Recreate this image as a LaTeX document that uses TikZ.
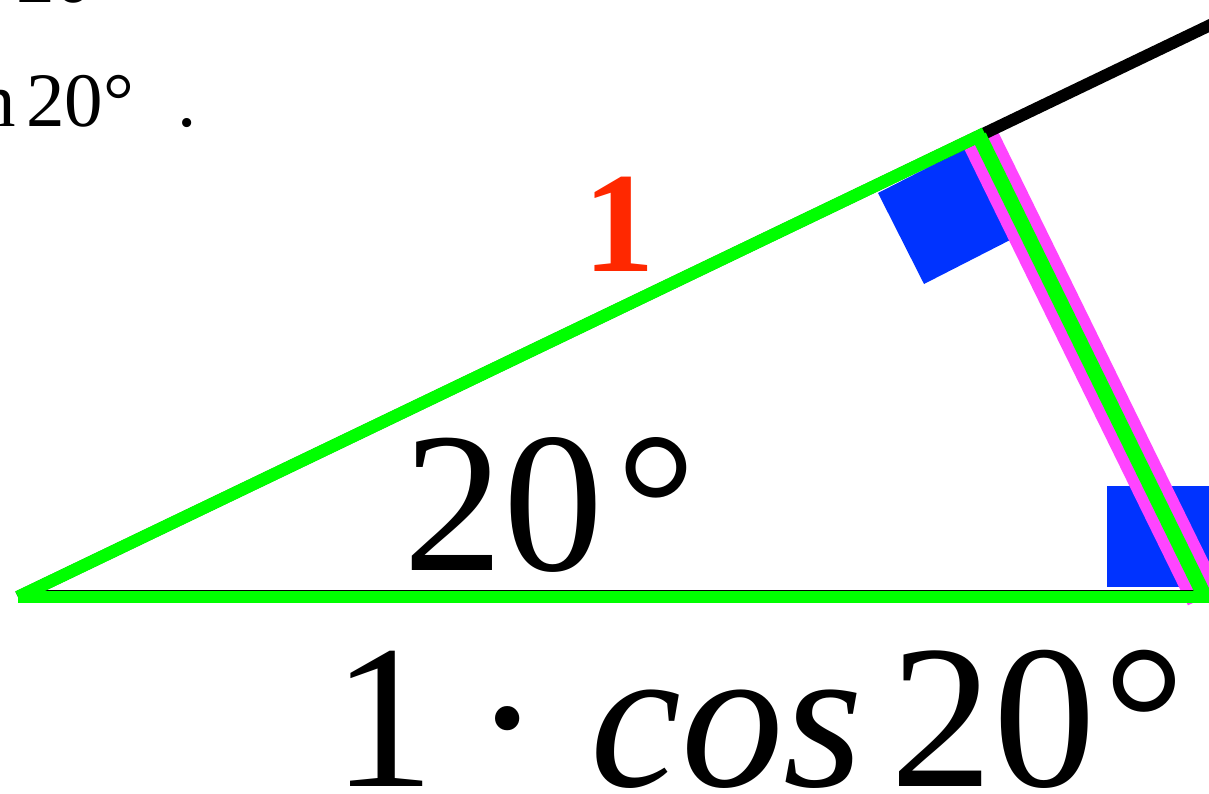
\documentclass[tikz,border=0pt]{standalone}
\usepackage{fontspec}
\setmainfont{Liberation Serif}
\definecolor{lgreen}{RGB}{0,255,0}
\definecolor{pinkm}{RGB}{255,68,255}
\definecolor{bluesq}{RGB}{0,51,255}
\definecolor{redt}{RGB}{255,40,0}
\tikzset{
  greenline/.style={draw=lgreen, line width=12.5pt},
  blackline/.style={draw=black, line width=12pt},
  pinkline/.style={draw=pinkm, line width=38pt},
  rightmark/.style={fill=bluesq},
  bigtxt/.style={inner sep=0pt, anchor=base, font=\fontsize{200}{240}\selectfont},
  lentxt/.style={inner sep=0pt, anchor=base, font=\fontsize{205}{240}\selectfont},
  smalltxt/.style={inner sep=0pt, font=\fontsize{77}{90}\selectfont}
}
\begin{document}
\begin{tikzpicture}[x=1pt,y=-1pt]
\useasboundingbox (0,0) rectangle (1209,794);
\clip (0,0) rectangle (1209,794);
\fill[white] (0,0) rectangle (1209,794);
% vertices
\coordinate (A) at (18,597);
\coordinate (C) at (979,136);
\coordinate (B) at (1205,597);
\coordinate (E) at (1260,1.2);
\coordinate (R) at (1260,597);
% right-angle marks
\fill[rightmark] (970,146) -- (878,193) -- (924,284) -- (1014,238) -- cycle;
\fill[rightmark] (1107,486) rectangle (1240,587);
% pink
\draw[pinkline] (C) -- (B);
% black base lines
\draw[blackline] (A) -- (E);
\draw[blackline] ([yshift=1pt]A) -- ([yshift=1pt]R);
% green triangle
\draw[greenline, line join=miter] (A) -- (C) -- (B);
\draw[greenline, line width=15pt] (C) -- (B);
\draw[greenline] (A) -- (R);
% labels
\node[inner sep=0pt, anchor=base, text=redt, font=\fontsize{143}{150}\selectfont\bfseries] (one) at (619,272) {1};
\node[bigtxt] (ang) at (503,570) {20};
\node[bigtxt] (angdeg) at (656,570) {°};
\node[lentxt] (lone) at (384,786) {1};
\node[lentxt] (ldot) at (508,786) {·};
\node[lentxt] (lcos) at (727,786) {\textit{cos}};
\node[lentxt] (ltwenty) at (993,786) {20};
\node[lentxt] (ldeg) at (1144,786) {°};
% text fragment top-left
\node[smalltxt, anchor=base east] (tn) at (16,127) {n};
\node[smalltxt, anchor=base west] (t1) at (26,127) {20°};
\node[smalltxt, anchor=base] (dot) at (187,127) {.};
\node[smalltxt, anchor=base west] (t0) at (16,3) {20};
\end{tikzpicture}
\end{document}
